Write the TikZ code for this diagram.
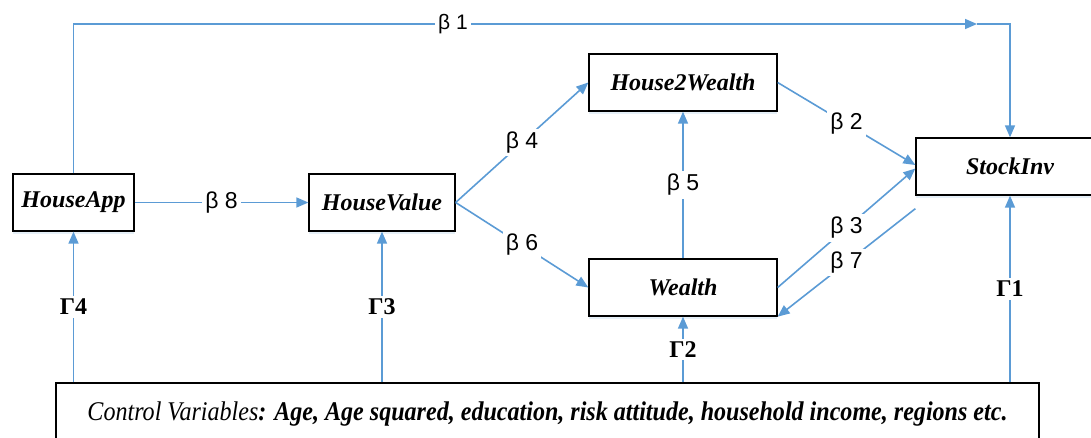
\documentclass[tikz,border=0pt]{standalone}
\usepackage{fontspec}
\usepackage{graphicx}
\setmainfont{Liberation Serif}
\newfontfamily\betafont{Liberation Sans}
\usetikzlibrary{arrows.meta,shadows}
\definecolor{lineblue}{HTML}{5B9BD5}

\begin{document}
\begin{tikzpicture}[x=1pt, y=-1pt,
    box/.style={draw, line width=1.3pt, fill=white, minimum height=57pt,
                inner sep=0pt, font=\fontsize{24}{28}\selectfont\bfseries\itshape,
                drop shadow={shadow xshift=0pt, shadow yshift=-3pt,
                             fill=lineblue!30, opacity=0.5}},
    arr/.style={-{Triangle[length=12pt, width=10pt]}, line width=1.6pt, draw=lineblue},
    blbl/.style={fill=white, inner sep=3pt, font=\betafont\fontsize{23}{26}\selectfont},
    glbl/.style={fill=white, inner sep=3pt, font=\fontsize{24}{27}\selectfont\bfseries},
  ]
  \useasboundingbox (0,0) rectangle (1091,437);

  % boxes
  \node[box, minimum width=121pt] (ha)  at (73.5,202.5) {HouseApp};
  \node[box, minimum width=146pt] (hv)  at (382,202.5)  {HouseValue};
  \node[box, minimum width=188pt] (h2w) at (683,82.5)   {House2Wealth};
  \node[box, minimum width=188pt] (w)   at (683,287.5)  {Wealth};
  \node[box, minimum width=188pt] (si)  at (1010,166.5) {StockInv};
  \node[draw, line width=1.3pt, fill=white, minimum width=983pt, minimum height=62pt,
        inner sep=0pt] (cv) at (547.5,414)
    {\resizebox{920pt}{\height}{\fontsize{27}{30}\selectfont\itshape Control Variables\bfseries: Age, Age squared, education, risk attitude, household income, regions etc.}};

  % beta paths
  \coordinate (b1tip) at (977,24);
  \draw[arr] (ha.north) |- node[blbl, pos=0.71, font=\betafont\fontsize{21}{23}\selectfont] {β 1} (b1tip);
  \draw[arr] (b1tip) -| (si.north);
  \draw[arr] (ha.east) -- node[blbl] {β 8} (hv.west);
  \draw[arr] (hv.east) -- node[blbl] {β 4} (h2w.west);
  \draw[arr] (hv.east) -- node[blbl] {β 6} (w.west);
  \draw[arr] (w.north) -- node[blbl] {β 5} (h2w.south);
  \draw[arr] (h2w.east) -- node[blbl] {β 2} ([yshift=1.5pt]si.west);
  \draw[arr] (w.east) -- node[blbl] {β 3} ([yshift=-2pt]si.west);
  \coordinate (b7start) at ([yshift=-13pt]si.south west);
  \draw[arr] (b7start) -- node[blbl] {β 7} (w.south east);

  % controls
  \draw[arr] (ha.south |- cv.north) -- node[glbl] {Γ4} (ha.south);
  \draw[arr] (hv.south |- cv.north) -- node[glbl] {Γ3} (hv.south);
  \draw[arr] (w.south |- cv.north)  -- node[glbl] {Γ2} (w.south);
  \draw[arr] (si.south |- cv.north) -- node[glbl] {Γ1} (si.south);
\end{tikzpicture}
\end{document}
